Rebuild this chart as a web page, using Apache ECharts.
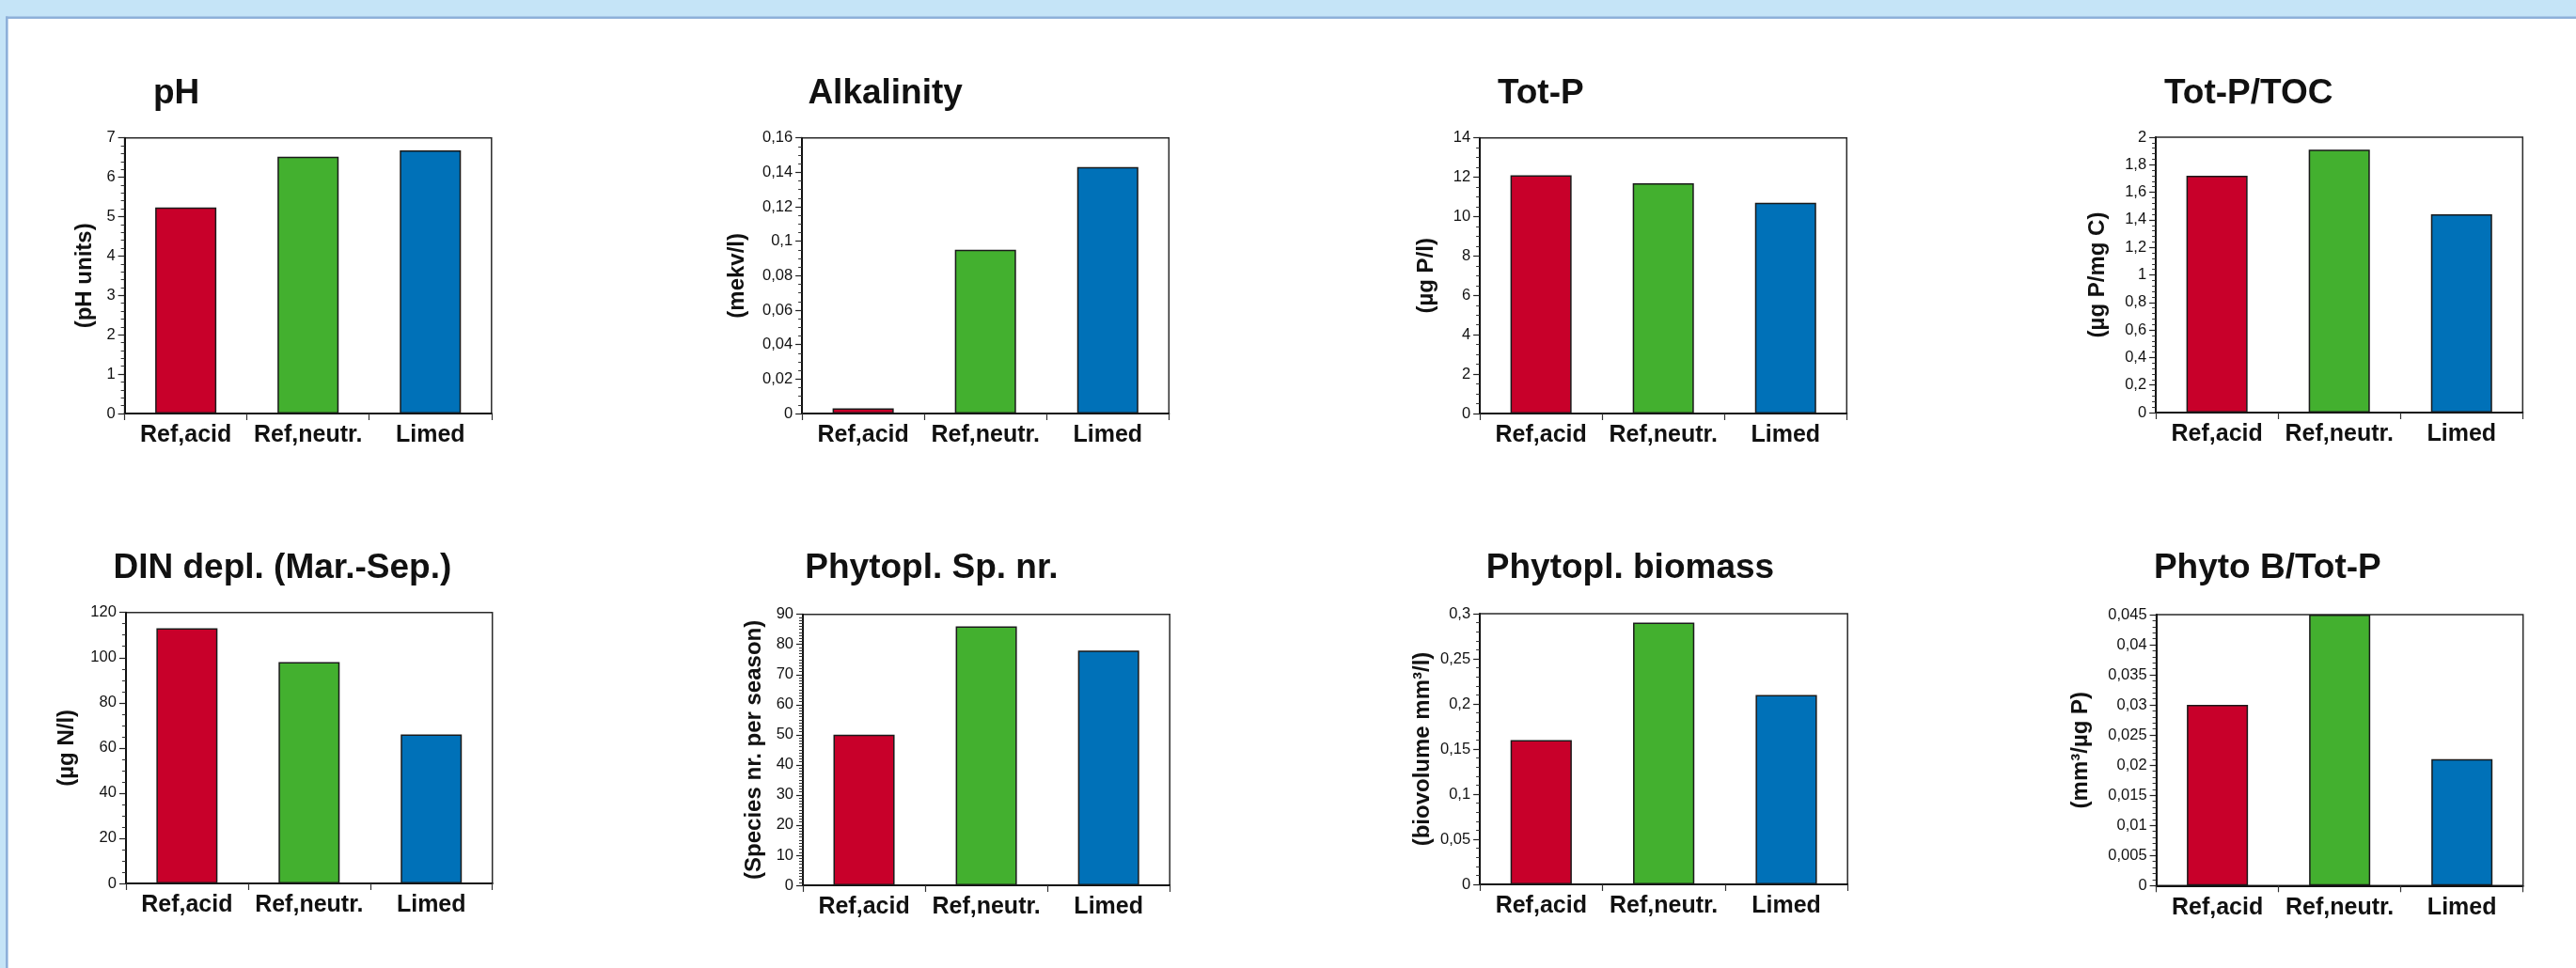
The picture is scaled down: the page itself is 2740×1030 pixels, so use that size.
<!DOCTYPE html>
<html>
<head>
<meta charset="utf-8">
<title>Water chemistry and phytoplankton: Ref,acid / Ref,neutr. / Limed</title>
<script src="https://cdn.jsdelivr.net/npm/echarts@6/dist/echarts.min.js"></script>
<style>
  html, body { margin: 0; padding: 0; background: #ffffff; }
  #chart { width: 2740px; height: 1030px; }
</style>
</head>
<body>
<div id="chart"></div>
<script>
// ---- data ----
const categories = ['Ref,acid', 'Ref,neutr.', 'Limed'];

const phValues = [5.23, 6.52, 6.68];
const alkalinityValues = [0.003, 0.095, 0.143];
const totPValues = [12.1, 11.7, 10.7];
const totPTocValues = [1.72, 1.91, 1.44];
const dinDepletionValues = [113, 98, 66];
const speciesValues = [50, 86, 78];
const biomassValues = [0.16, 0.29, 0.21];
const biomassPerTotPValues = [0.030, 0.045, 0.021];

const panelTitles = ['pH', 'Alkalinity', 'Tot-P', 'Tot-P/TOC',
  'DIN depl. (Mar.-Sep.)', 'Phytopl. Sp. nr.', 'Phytopl. biomass', 'Phyto B/Tot-P'];
const axisNames = ['(pH units)', '(mekv/l)', '(µg P/l)', '(µg P/mg C)',
  '(µg N/l)', '(Species nr. per season)', '(biovolume mm³/l)', '(mm³/µg P)'];
const axisMax = [7, 0.16, 14, 2, 120, 90, 0.3, 0.045];
const axisInterval = [1, 0.02, 2, 0.2, 20, 10, 0.05, 0.005];
const minorSplits = [5, 4, 4, 5, 4, 10, 5, 5];

const panelValues = [phValues, alkalinityValues, totPValues, totPTocValues,
  dinDepletionValues, speciesValues, biomassValues, biomassPerTotPValues];

// ---- styling & layout ----
const barColors = ['#c8002a', '#43b02f', '#0071b8'];
const sans = '"Liberation Sans", Arial, Helvetica, sans-serif';

// plot rectangles [left, top, width, height], title left edge, y-name gap
const layout = [
  { rect: [132.6, 146.7, 390.2, 293.3], titleX: 163, nameGap: 30 },
  { rect: [853.1, 146.7, 390.2, 293.3], titleX: 859.4, nameGap: 57 },
  { rect: [1574.1, 146.7, 390.2, 293.3], titleX: 1592.9, nameGap: 45 },
  { rect: [2293.1, 146, 390.2, 293], titleX: 2302, nameGap: 50 },
  { rect: [133.9, 651.7, 389.8, 288.3], titleX: 120.5, nameGap: 51 },
  { rect: [854, 653.7, 390.2, 288.3], titleX: 856.3, nameGap: 40 },
  { rect: [1574.1, 653, 391.1, 288], titleX: 1580.8, nameGap: 49 },
  { rect: [2293.6, 654, 390.1, 288.3], titleX: 2290.9, nameGap: 68 }
];
const titleMidY = [99.5, 604.5];

const commaFormat = v => String(+v.toFixed(4)).replace('.', ',');

const grids = [], xAxes = [], yAxes = [], series = [], graphics = [];

// page frame: light band on top, strip on the left, each with a darker edge
graphics.push(
  { type: 'rect', z: -10, shape: { x: 0, y: 0, width: 2740, height: 20 }, style: { fill: '#c5e4f7' } },
  { type: 'rect', z: -10, shape: { x: 0, y: 0, width: 8.5, height: 1030 }, style: { fill: '#c5e4f7' } },
  { type: 'rect', z: -9, shape: { x: 6, y: 17.5, width: 2734, height: 2.5 }, style: { fill: '#8eb0d9' } },
  { type: 'rect', z: -9, shape: { x: 6, y: 17.5, width: 2.5, height: 1012.5 }, style: { fill: '#8eb0d9' } }
);

panelValues.forEach((values, i) => {
  const L = layout[i];
  const row = i < 4 ? 0 : 1;
  grids.push({
    left: L.rect[0], top: L.rect[1], width: L.rect[2], height: L.rect[3],
    show: true, borderColor: '#2a2a2a', borderWidth: 1.5, backgroundColor: '#ffffff'
  });
  graphics.push({
    type: 'text', x: L.titleX, y: titleMidY[row], z: 10,
    style: {
      text: panelTitles[i], align: 'left', verticalAlign: 'middle',
      font: 'bold 37px ' + sans, fill: '#111'
    }
  });
  xAxes.push({
    gridIndex: i, type: 'category', data: categories, boundaryGap: true,
    axisLine: { show: true, lineStyle: { color: '#111', width: 2 } },
    axisTick: { show: true, length: 7, lineStyle: { color: '#333', width: 1.2 } },
    axisLabel: { interval: 0, margin: 11, fontFamily: sans, fontWeight: 'bold', fontSize: 25, color: '#111' },
    splitLine: { show: false }
  });
  yAxes.push({
    gridIndex: i, type: 'value', min: 0, max: axisMax[i], interval: axisInterval[i],
    name: axisNames[i], nameLocation: 'middle', nameGap: L.nameGap,
    nameTextStyle: { fontFamily: sans, fontWeight: 'bold', fontSize: 24, color: '#111' },
    axisLine: { show: true, lineStyle: { color: '#111', width: 2 } },
    axisTick: { show: true, length: 7, lineStyle: { color: '#222', width: 1.2 } },
    minorTick: { show: true, splitNumber: minorSplits[i], length: 4, lineStyle: { color: '#333', width: 1 } },
    axisLabel: { margin: 10, fontFamily: sans, fontSize: 16.5, color: '#111', formatter: commaFormat },
    splitLine: { show: false }, minorSplitLine: { show: false }
  });
  series.push({
    type: 'bar', xAxisIndex: i, yAxisIndex: i, barWidth: '50%',
    data: values.map((v, k) => ({ value: v, itemStyle: { color: barColors[k] } })),
    itemStyle: { borderColor: '#1a1a1a', borderWidth: 1.5 },
    emphasis: { disabled: true }, animation: false
  });
});

const chart = echarts.init(document.getElementById('chart'), null, { renderer: 'canvas' });
chart.setOption({
  backgroundColor: '#ffffff',
  animation: false,
  tooltip: { show: false },
  grid: grids,
  xAxis: xAxes,
  yAxis: yAxes,
  series: series,
  graphic: graphics
});
</script>
</body>
</html>
